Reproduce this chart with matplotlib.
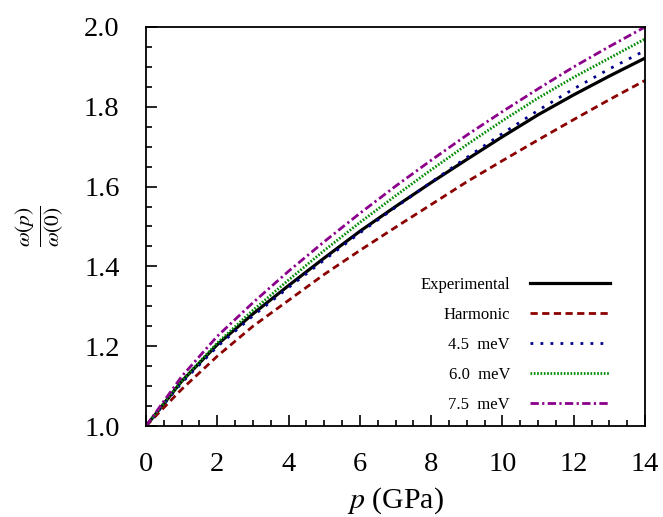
import matplotlib
matplotlib.use("Agg")
import matplotlib.pyplot as plt
import numpy as np
from matplotlib.ticker import MultipleLocator, FormatStrFormatter

plt.rcParams['font.family'] = 'Liberation Serif'
plt.rcParams['mathtext.fontset'] = 'stix'

# pressure grid (GPa) and normalised frequencies
pressure = [0, 1, 2, 3, 4, 5, 6, 7, 8, 9, 10, 11, 12, 13, 14]
experimental = [1.000, 1.112, 1.204, 1.281, 1.352, 1.421, 1.488, 1.550,
                1.610, 1.668, 1.725, 1.780, 1.830, 1.877, 1.922]
harmonic = [1.000, 1.092, 1.175, 1.250, 1.315, 1.380, 1.440, 1.498,
            1.555, 1.612, 1.665, 1.717, 1.768, 1.818, 1.866]
mev_45 = [1.000, 1.108, 1.199, 1.276, 1.347, 1.416, 1.484, 1.548,
          1.611, 1.673, 1.733, 1.791, 1.845, 1.895, 1.941]
mev_60 = [1.000, 1.113, 1.208, 1.290, 1.366, 1.440, 1.510, 1.577,
          1.642, 1.705, 1.765, 1.822, 1.874, 1.922, 1.970]
mev_75 = [1.000, 1.124, 1.225, 1.309, 1.388, 1.462, 1.533, 1.601,
          1.666, 1.729, 1.788, 1.845, 1.900, 1.951, 2.000]

fig = plt.figure(figsize=(6.63, 5.17), dpi=100)
ax = fig.add_axes([0.2202, 0.176, 0.7527, 0.7718])

ax.plot(pressure, experimental, color='black', lw=2.3, label='Experimental')
ax.plot(pressure, harmonic, color='#8b0000', lw=2.0, dashes=(2.6, 1.6), label='Harmonic')
ax.plot(pressure, mev_45, color='#00008b', lw=2.0, dashes=(1.0, 2.6), label='4.5  meV')
ax.plot(pressure, mev_60, color='#008b00', lw=2.0, dashes=(0.6, 0.6), label='6.0  meV')
ax.plot(pressure, mev_75, color='#8b008b', lw=2.0, dashes=(3.0, 1.2, 0.8, 1.2), label='7.5  meV')

ax.set_xlim(0, 14)
ax.set_ylim(1.0, 2.0)
ax.xaxis.set_major_locator(MultipleLocator(2))
ax.xaxis.set_minor_locator(MultipleLocator(0.5))
ax.yaxis.set_major_locator(MultipleLocator(0.2))
ax.yaxis.set_minor_locator(MultipleLocator(0.05))
ax.yaxis.set_major_formatter(FormatStrFormatter('%.1f'))
ax.tick_params(which='both', direction='in', labelsize=20.5, width=1.2)
ax.tick_params(which='major', length=8, pad=19)
ax.tick_params(which='minor', length=4)
for s in ax.spines.values():
    s.set_linewidth(1.3)

ax.set_xlabel(r'$p$ (GPa)', fontsize=21.5, labelpad=6)
ax.set_ylabel(r'$\frac{\omega(p)}{\omega(0)}$', fontsize=22, labelpad=14)

leg = ax.legend(loc='lower right', bbox_to_anchor=(0.96, -0.004), frameon=False,
                markerfirst=False, fontsize=12, handlelength=4.8,
                handletextpad=1.2, labelspacing=0.83)

fig.savefig('out.png', dpi=100)
